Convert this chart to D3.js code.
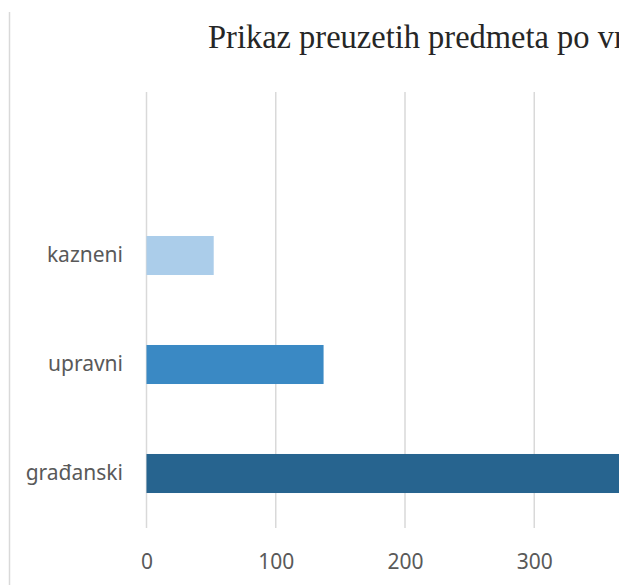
<!DOCTYPE html>
<html><head><meta charset="utf-8">
<script src="https://cdn.jsdelivr.net/npm/d3@7"></script>
<style>body{margin:0;background:#fff;overflow:hidden}</style>
</head><body>
<svg id="c" width="619" height="585"></svg>
<script>
const categories = ["", "kazneni", "upravni", "građanski"];
const values = [null, 52, 137, 380];
const colors = ["none", "#ABCDEA", "#3A89C4", "#27648F"];
const tickValues = [0, 100, 200, 300];
const title = "Prikaz preuzetih predmeta po vrstama";

const svg = d3.select("#c");
const x = d3.scaleLinear().domain([0, 400]).range([146.5, 663.5]);
const y = d3.scaleBand().domain(categories).range([92, 528]).paddingInner(0.642).paddingOuter(0.321);

// left border
svg.append("line").attr("x1", 9.5).attr("x2", 9.5).attr("y1", 12).attr("y2", 585)
  .attr("stroke", "#d9d9d9").attr("stroke-width", 1.5);

// gridlines
svg.append("g").selectAll("line").data(tickValues).join("line")
  .attr("x1", d => x(d)).attr("x2", d => x(d)).attr("y1", 92).attr("y2", 528)
  .attr("stroke", "#d9d9d9").attr("stroke-width", 1.5);

// bars
svg.append("g").selectAll("rect").data(categories.map((c, i) => ({c, v: values[i], col: colors[i]})).filter(d => d.v != null))
  .join("rect")
  .attr("x", x(0)).attr("y", d => y(d.c)).attr("height", y.bandwidth())
  .attr("width", d => x(d.v) - x(0)).attr("fill", d => d.col);

// x axis labels
const xAxis = d3.axisBottom(x).tickValues(tickValues).tickSize(0).tickPadding(0);
const gx = svg.append("g").attr("transform", "translate(0,554)").call(xAxis);
gx.select(".domain").remove();
gx.selectAll("text").attr("font-family", "'Noto Sans', sans-serif").attr("font-size", 21)
  .attr("fill", "#595959").attr("dy", "0.71em");

// y axis labels
const yAxis = d3.axisLeft(y).tickSize(0).tickPadding(0);
const gy = svg.append("g").attr("transform", "translate(123,0)").call(yAxis);
gy.select(".domain").remove();
gy.selectAll("text").attr("font-family", "'Noto Sans', sans-serif").attr("font-size", 21)
  .attr("fill", "#595959");

// title
svg.append("text").attr("transform", "translate(208,48) scale(0.942,1)").text(title)
  .attr("font-family", "'Liberation Serif', 'Times New Roman', serif").attr("font-size", 34.5)
  .attr("fill", "#262626");
</script>
</body></html>
